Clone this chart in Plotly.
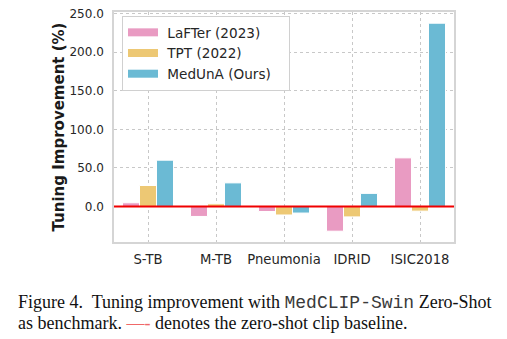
import plotly.graph_objects as go

# Datasets on the x axis
datasets = ["S-TB", "M-TB", "Pneumonia", "IDRID", "ISIC2018"]

# Tuning improvement (%) over the zero-shot baseline
lafter = [4.8, -12.9, -6.5, -32.0, 63.0]
tpt = [27.2, 3.5, -11.0, -13.5, -6.0]
meduna = [60.0, 30.6, -8.5, 17.0, 237.5]

series_names = ["LaFTer (2023)", "TPT (2022)", "MedUnA (Ours)"]
series_values = [lafter, tpt, meduna]
series_colors = ["#E99BC2", "#EDC874", "#6BBAD4"]

y_ticks = [0, 50, 100, 150, 200, 250]

W, H = 507, 339
L, R, T, B = 114, 53, 12, 97
plot_h = H - T - B
plot_w = W - L - R

fig = go.Figure()

for name, vals, col in zip(series_names, series_values, series_colors):
    fig.add_trace(go.Bar(
        x=datasets, y=vals, name=name, showlegend=False,
        marker=dict(color=col, line=dict(color="white", width=1)),
    ))

# legend entries drawn as wide swatches (padded with non-breaking spaces)
NBSP = "\u00a0"
for name, col in zip(series_names, series_colors):
    fig.add_trace(go.Scatter(
        x=[None], y=[None], mode="lines", name=NBSP + name + NBSP * 3,
        line=dict(color=col, width=8),
    ))

# zero-shot baseline
fig.add_shape(type="line", xref="paper", yref="y", x0=0, x1=1, y0=0, y1=0,
              line=dict(color="#F00000", width=2), layer="above")

def px_to_paper_y(py):
    return (H - B - py) / plot_h

def px_to_paper_x(px):
    return (px - L) / plot_w

serif = "Liberation Serif, Times New Roman, serif"
mono = "Liberation Mono, Courier New, monospace"

fig.add_annotation(
    xref="paper", yref="paper", x=px_to_paper_x(16), y=px_to_paper_y(302),
    xanchor="left", yanchor="middle", showarrow=False, align="left",
    text=("Figure 4.  Tuning improvement with "
          f"<span style='font-family:{mono};color:#3a3a3a'>MedCLIP-Swin</span> Zero-Shot"),
    font=dict(family=serif, size=18, color="#111"),
)
fig.add_annotation(
    xref="paper", yref="paper", x=px_to_paper_x(16), y=px_to_paper_y(323),
    xanchor="left", yanchor="middle", showarrow=False, align="left",
    text=("as benchmark. <span style='color:#F06868'>\u2014-</span> "
          "denotes the zero-shot clip baseline."),
    font=dict(family=serif, size=18, color="#111"),
)

fig.update_layout(
    width=W, height=H,
    margin=dict(l=L, r=R, t=T, b=B, autoexpand=False),
    paper_bgcolor="white", plot_bgcolor="white",
    barmode="group", bargap=0.25, bargroupgap=0.0,
    font=dict(family="DejaVu Sans", color="#262626"),
    legend=dict(
        x=px_to_paper_x(122), y=px_to_paper_y(16), xanchor="left", yanchor="top",
        bgcolor="white", bordercolor="#D0D0D0", borderwidth=1,
        font=dict(size=13.6, color="#262626"), itemwidth=30,
    ),
)

fig.update_xaxes(
    range=[-0.5, 4.5],
    showgrid=True, gridcolor="#C8C8C8", griddash="dot", gridwidth=1,
    showline=True, linecolor="#D5D5D5", linewidth=1.5, mirror=True,
    ticks="outside", ticklen=4, tickcolor="rgba(0,0,0,0)",
    tickfont=dict(size=13.2, color="#262626"),
)
fig.update_yaxes(
    range=[-46, 252],
    tickvals=y_ticks, tickformat=".1f",
    showgrid=True, gridcolor="#C8C8C8", griddash="dot", gridwidth=1,
    zeroline=False,
    showline=True, linecolor="#D5D5D5", linewidth=1.5, mirror=True,
    ticks="outside", ticklen=6, tickcolor="rgba(0,0,0,0)",
    tickfont=dict(size=12, color="#262626"),
    title=dict(text="<b>Tuning Improvement (%)</b>", standoff=1,
               font=dict(size=15, color="#1a1a1a")),
)

fig.write_html("out.html")
